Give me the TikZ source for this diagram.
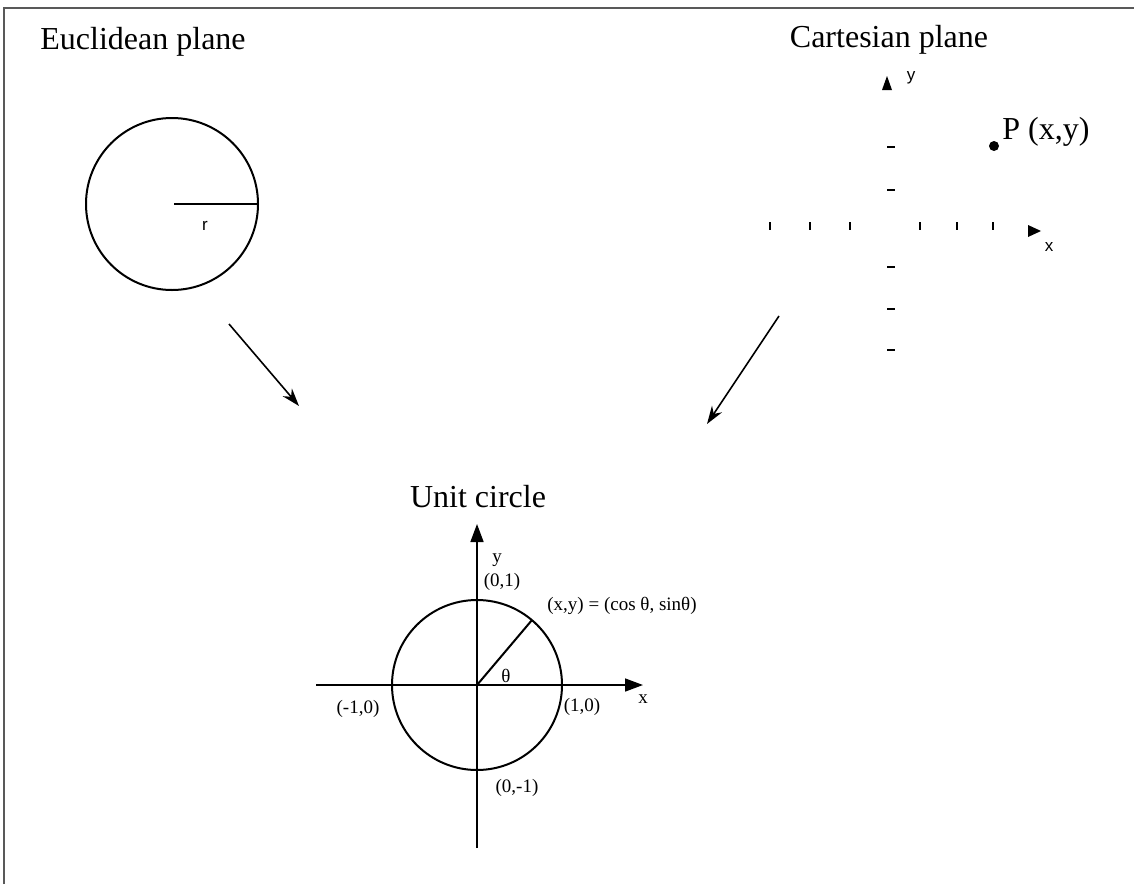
\documentclass[tikz,border=0pt]{standalone}
\usepackage{fontspec}
\setmainfont{Liberation Serif}
\newfontfamily\labsans{Liberation Sans}
\usetikzlibrary{arrows.meta}
\begin{document}
\begin{tikzpicture}[x=0.5pt,y=-0.5pt,
  title/.style={font=\fontsize{16}{18}\selectfont, inner sep=0pt},
  small/.style={font=\fontsize{9.5}{11}\selectfont, inner sep=0pt},
  sanslab/.style={font=\labsans\fontsize{8.5}{10}\selectfont, inner sep=0pt},
  frameline/.style={draw=black!65, line width=0.9pt},
  curve/.style={draw, line width=1pt},
  link/.style={draw, line width=0.8pt, -{Stealth[length=9pt,width=6pt]}},
  axis/.style={draw, line width=0.8pt, -{Triangle[length=9pt,width=6.5pt]}},
  tick/.style={draw, line width=1.1pt},
  tip/.style={fill=black}]
\useasboundingbox (0,0) rectangle (1134,884);
\fill[white] (0,0) rectangle (1134,884);
% frame
\coordinate (f1) at (4,884);
\coordinate (f2) at (4,8);
\coordinate (f3) at (1134,8);
\draw[frameline] (f1) -- (f2) -- (f3);

% Euclidean plane
\node[title, anchor=west] (etitle) at (40,42) {Euclidean plane};
\node[circle, curve, minimum size=86pt, inner sep=0pt] (ecirc) at (172,204) {};
\coordinate (ecen) at (174,204);
\draw[line width=1.1pt] (ecen) -- (ecirc.east);
\node[sanslab] (rlab) at (205,226) {r};

% Cartesian plane
\node[title] (ctitle) at (889,40) {Cartesian plane};
\foreach \yy [count=\i] in {147,190,267,309,350}
  \draw[tick] (887,\yy) coordinate (yt\i) -- (895,\yy);
\foreach \xx [count=\i] in {770,810,850,920,957,993}
  \draw[tick] (\xx,222) coordinate (xt\i) -- (\xx,230);
\coordinate (yarr) at (887,76);
\fill[tip] (887,76) -- (892,90) -- (882,90) -- cycle;
\node[sanslab] (ylab) at (911,78) {y};
\fill[tip] (1041,231) -- (1028,225) -- (1028,237) -- cycle;
\coordinate (xarr) at (1041,231);
\node[sanslab] (xlab) at (1049,247) {x};
\node[circle, fill, inner sep=0pt, minimum size=5pt] (P) at (994,146) {};
\node[title, anchor=west] (Plab) at (1002,132) {P (x,y)};

% arrows to unit circle
\coordinate (a1s) at (229,324);
\coordinate (a1e) at (299,406);
\draw[link] (a1s) -- (a1e);
\coordinate (a2s) at (779,316);
\coordinate (a2e) at (707,424);
\draw[link] (a2s) -- (a2e);

% Unit circle
\node[title] (utitle) at (478,497) {Unit circle};
\coordinate (O) at (477,685);
\node[circle, curve, minimum size=85pt, inner sep=0pt] (ucirc) at (O) {};
\coordinate (ytop) at (477,524);
\coordinate (ybot) at (477,848);
\coordinate (xleft) at (316,685);
\coordinate (xright) at (643,685);
\draw[axis] (ybot) -- (ytop);
\draw[axis] (xleft) -- (xright);
\coordinate (Q) at (532,620);
\draw[line width=1pt] (O) -- (Q);
\node[small] (th) at (506,676) {θ};
\node[small] (uy) at (497,560) {y};
\node[small] (u01) at (502,582) {(0,1)};
\node[small, anchor=west] (uq) at (547,606) {(x,y) = (cos θ, sinθ)};
\node[small] (ux) at (643,699) {x};
\node[small] (u10) at (582,707) {(1,0)};
\node[small] (um10) at (358,709) {(-1,0)};
\node[small] (u0m1) at (517,788) {(0,-1)};
\end{tikzpicture}
\end{document}
